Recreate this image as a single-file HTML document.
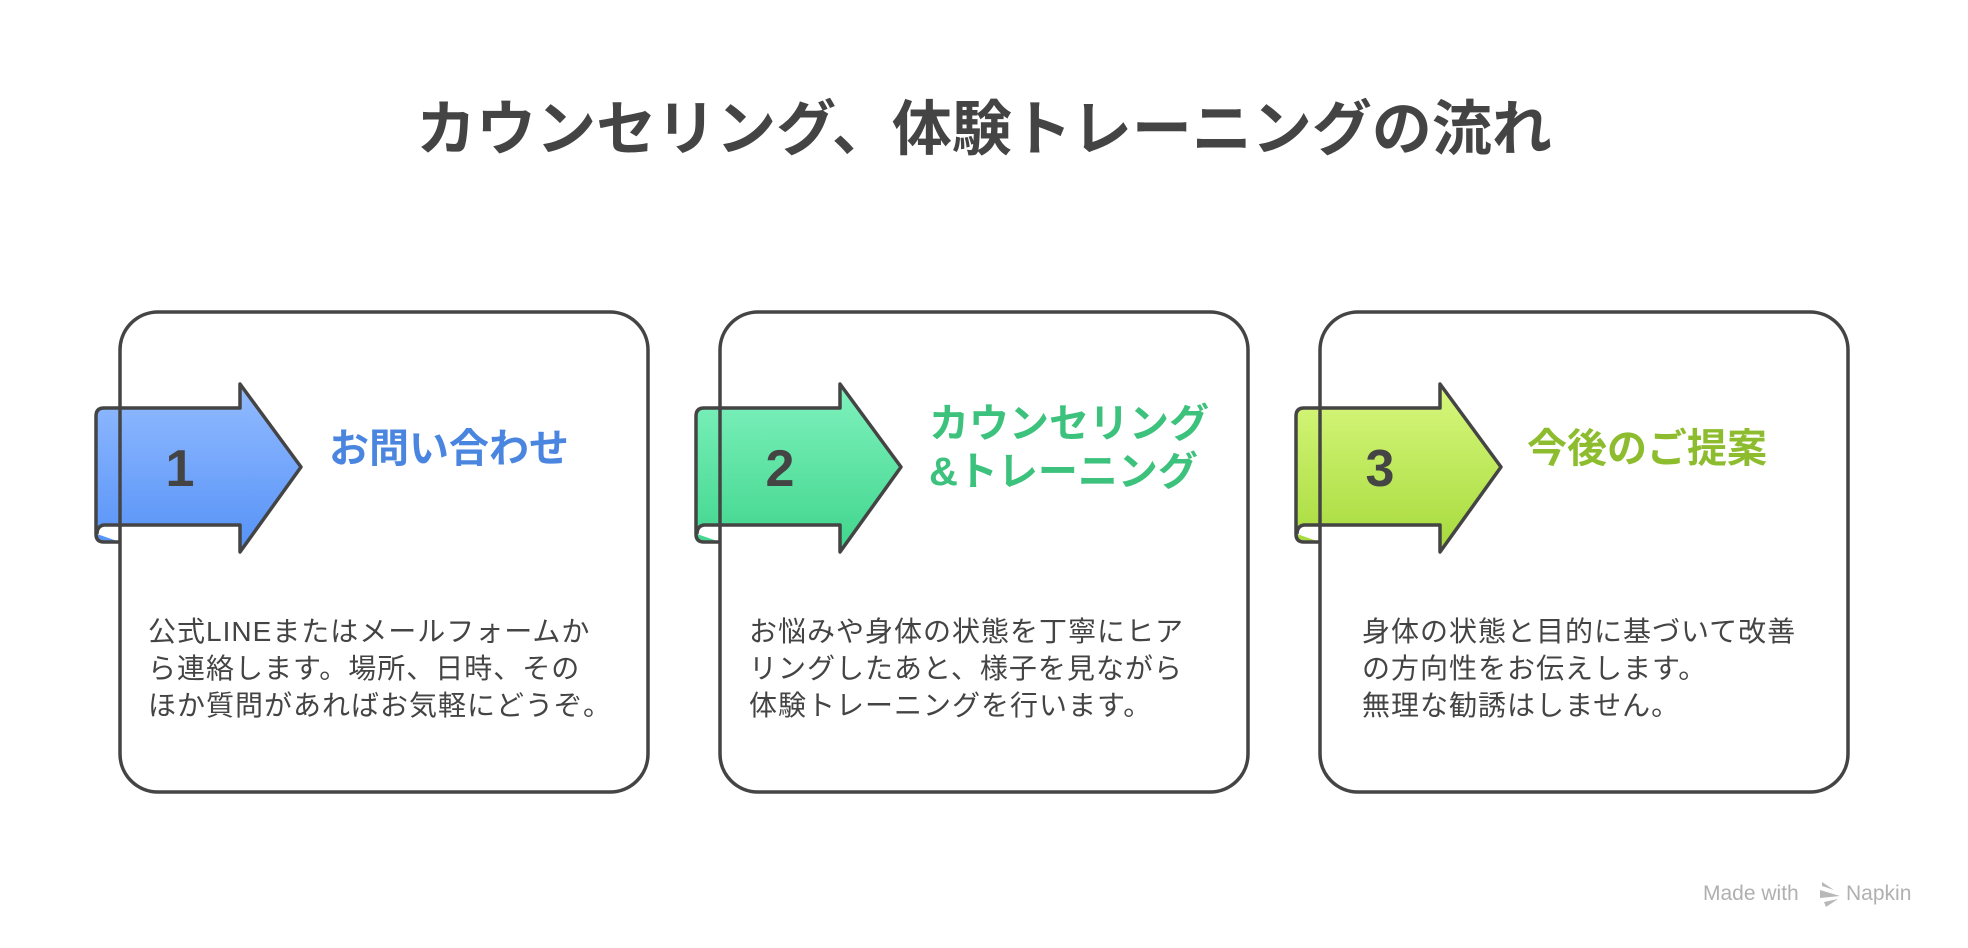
<!DOCTYPE html>
<html><head><meta charset="utf-8"><style>
html,body{margin:0;padding:0;background:#fff;width:1968px;height:948px;overflow:hidden}
svg{display:block}
text{font-family:"Liberation Sans","Noto Sans CJK JP",sans-serif}
</style></head><body>
<svg width="1968" height="948" viewBox="0 0 1968 948" xmlns="http://www.w3.org/2000/svg">
<defs>
<linearGradient id="g1" x1="0" y1="0" x2="0" y2="1"><stop offset="0" stop-color="#93bbff"/><stop offset="1" stop-color="#5592f7"/></linearGradient>
<linearGradient id="g2" x1="0" y1="0" x2="0" y2="1"><stop offset="0" stop-color="#80f2be"/><stop offset="1" stop-color="#3fd58c"/></linearGradient>
<linearGradient id="g3" x1="0" y1="0" x2="0" y2="1"><stop offset="0" stop-color="#d8f87e"/><stop offset="1" stop-color="#a6da3c"/></linearGradient>
</defs>
<text x="984" y="150" text-anchor="middle" font-size="60" font-weight="bold" fill="#444">カウンセリング、体験トレーニングの流れ</text>

<rect x="120" y="312" width="528" height="480" rx="38" fill="#fff"/>
<rect x="720" y="312" width="528" height="480" rx="38" fill="#fff"/>
<rect x="1320" y="312" width="528" height="480" rx="38" fill="#fff"/>

<g stroke="#444" stroke-width="3.5" stroke-linejoin="round">
<path d="M120,542 H104 Q96,542 96,534 V416 Q96,408 104,408 H240 V384 L301,467 L240,552 V525 H104 Q97,526 97,534" fill="url(#g1)"/>
<path d="M720,542 H704 Q696,542 696,534 V416 Q696,408 704,408 H840 V384 L901,467 L840,552 V525 H704 Q697,526 697,534" fill="url(#g2)"/>
<path d="M1320,542 H1304 Q1296,542 1296,534 V416 Q1296,408 1304,408 H1440 V384 L1501,467 L1440,552 V525 H1304 Q1297,526 1297,534" fill="url(#g3)"/>
</g>
<g fill="none" stroke="#444" stroke-width="3.5">
<rect x="120" y="312" width="528" height="480" rx="38"/>
<rect x="720" y="312" width="528" height="480" rx="38"/>
<rect x="1320" y="312" width="528" height="480" rx="38"/>
</g>

<g font-size="52" font-weight="bold" fill="#444" text-anchor="middle">
<text x="180" y="486">1</text>
<text x="780" y="486">2</text>
<text x="1380" y="486">3</text>
</g>

<text x="329" y="462" font-size="40" font-weight="bold" fill="#4a86e0">お問い合わせ</text>
<text x="929" y="437" font-size="40" font-weight="bold" fill="#3cc27c">カウンセリング</text>
<text x="929" y="485" font-size="40" font-weight="bold" fill="#3cc27c">&amp;トレーニング</text>
<text x="1527" y="462" font-size="40" font-weight="bold" fill="#8dbd2e">今後のご提案</text>

<g font-size="28" fill="#444" letter-spacing="1">
<text x="148" y="641">公式LINEまたはメールフォームか</text>
<text x="148" y="678">ら連絡します。場所、日時、その</text>
<text x="148" y="715">ほか質問があればお気軽にどうぞ。</text>
<text x="749" y="641">お悩みや身体の状態を丁寧にヒア</text>
<text x="749" y="678">リングしたあと、様子を見ながら</text>
<text x="749" y="715">体験トレーニングを行います。</text>
<text x="1362" y="641">身体の状態と目的に基づいて改善</text>
<text x="1362" y="678">の方向性をお伝えします。</text>
<text x="1362" y="715">無理な勧誘はしません。</text>
</g>

<text x="1703" y="900" font-size="21" fill="#b0b0b0">Made with</text>
<g fill="#b8b8b8"><path d="M1822,882 L1834,890 L1822,886 Z M1820,890 L1840,896 L1820,898 Z M1824,902 L1838,899 L1826,907 Z"/></g>
<text x="1846" y="900" font-size="21" fill="#b0b0b0">Napkin</text>
</svg>
</body></html>
